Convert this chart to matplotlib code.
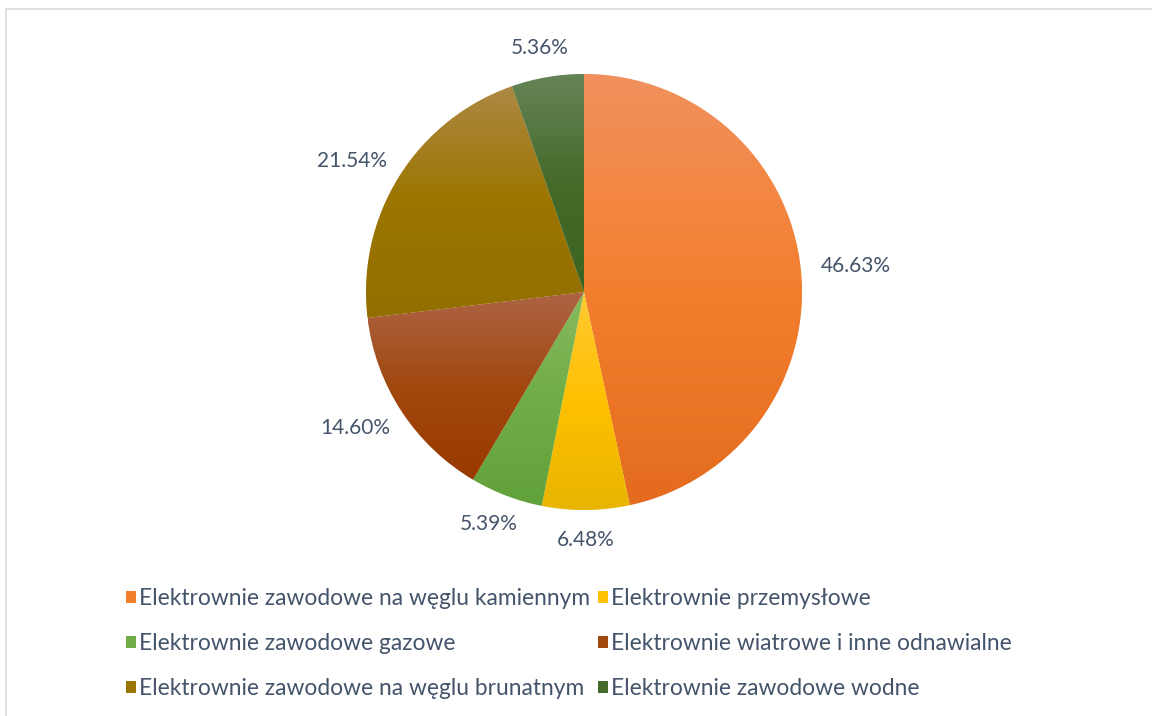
import matplotlib
matplotlib.use("Agg")
import matplotlib.pyplot as plt
import numpy as np
from matplotlib.colors import LinearSegmentedColormap
from matplotlib.patches import Rectangle

plt.rcParams['font.family'] = ['Lato', 'DejaVu Sans']

labels = ['Elektrownie zawodowe na węglu kamiennym', 'Elektrownie przemysłowe',
          'Elektrownie zawodowe gazowe', 'Elektrownie wiatrowe i inne odnawialne',
          'Elektrownie zawodowe na węglu brunatnym', 'Elektrownie zawodowe wodne']
shares = [46.63, 6.48, 5.39, 14.60, 21.54, 5.36]

# light (top), base (middle), dark (bottom) for each slice gradient
grad_colors = [
    ('#F1915E', '#F37F2E', '#E46B1E'),
    ('#FFC934', '#FFC000', '#E8B500'),
    ('#88BA5E', '#70AD47', '#62A23A'),
    ('#AD6444', '#A1480F', '#993A00'),
    ('#AD8843', '#9C7500', '#926F00'),
    ('#658457', '#456A2A', '#3B6422'),
]
text_color = '#44546A'

W, H = 1152, 716
fig = plt.figure(figsize=(W / 100, H / 100), dpi=100)

# light chart frame
fig.patches.append(Rectangle((6 / W, -0.1), 1.2, 1.1 - 9 / H, transform=fig.transFigure,
                             fill=False, edgecolor='#D9D9D9', linewidth=1.2))

cx, cy, R = 584, 292, 218
ax = fig.add_axes([(cx - R) / W, (H - cy - R) / H, 2 * R / W, 2 * R / H])

wedges, _ = ax.pie(shares, startangle=90, counterclock=False, radius=1,
                   colors=[c[1] for c in grad_colors],
                   wedgeprops=dict(edgecolor='white', linewidth=0.6))

for w, cols in zip(wedges, grad_colors):
    verts = w.get_path().vertices
    ymin, ymax = verts[:, 1].min(), verts[:, 1].max()
    xmin, xmax = verts[:, 0].min(), verts[:, 0].max()
    cmap = LinearSegmentedColormap.from_list('g', [cols[2], cols[1], cols[0]])
    grad = np.linspace(0, 1, 256).reshape(-1, 1)
    im = ax.imshow(grad, cmap=cmap, origin='lower', aspect='auto',
                   extent=[xmin, xmax, ymin, ymax], zorder=w.get_zorder() + 0.1,
                   interpolation='bilinear')
    im.set_clip_path(w)
ax.set_xlim(-1, 1)
ax.set_ylim(-1, 1)
ax.set_aspect('equal')
ax.axis('off')

# outside-end labels, pushed off the rim along the mid ray
gap = 20 / R
lab_fs = 15
for w, s in zip(wedges, shares):
    ang = np.deg2rad((w.theta1 + w.theta2) / 2)
    c, sn = np.cos(ang), np.sin(ang)
    r = 1 + gap
    t = ax.text(r * c, r * sn, f'{s:.2f}%', fontsize=lab_fs, color=text_color,
                ha='center', va='center', clip_on=False)
    fig.canvas.draw()
    bb = t.get_window_extent()
    bw, bh = bb.width / R, bb.height / R
    t.set_position((r * c + bw / 2 * c, r * sn + bh / 2 * sn))

# legend filled row by row like the original
order = [0, 2, 4, 1, 3, 5]
leg = fig.legend([wedges[i] for i in order], [labels[i] for i in order], ncol=2,
                 loc='upper left', bbox_to_anchor=(126 / W, 1 - 588 / H), frameon=False,
                 fontsize=16.4, labelcolor=text_color, handlelength=0.44,
                 handleheight=0.44, handletextpad=0.12, columnspacing=0.35,
                 labelspacing=1.05, borderaxespad=0, borderpad=0)
for p in leg.get_patches():
    p.set_edgecolor('none')

fig.savefig('out.png', dpi=100)
